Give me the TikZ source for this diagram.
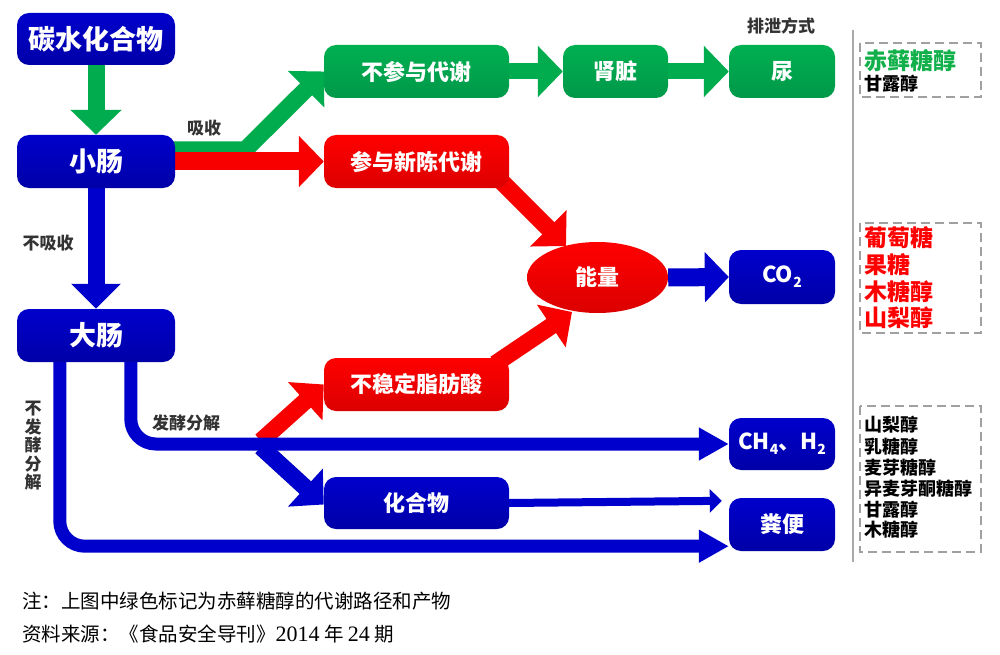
\documentclass[tikz,border=0pt]{standalone}
\usepackage{fontspec}
\setmainfont{Noto Sans CJK SC}
\newfontfamily\latinserif{Liberation Serif}
\usetikzlibrary{arrows.meta,shapes.geometric,calc}
\pgfdeclarelayer{back}
\pgfdeclarelayer{bg}
\pgfsetlayers{back,bg,main}
\definecolor{dblue}{HTML}{0000CC}
\definecolor{dblue2}{HTML}{0000A8}
\definecolor{gtop}{HTML}{00B050}
\definecolor{gbot}{HTML}{00984A}
\definecolor{rtop}{HTML}{FF0000}
\definecolor{rbot}{HTML}{DC0000}
\definecolor{ablue}{HTML}{0000CC}
\definecolor{agreen}{HTML}{00AC4E}
\definecolor{ared}{HTML}{F80000}
\definecolor{lbl}{HTML}{333333}
\definecolor{lgreen}{HTML}{12B04A}
\definecolor{dash}{HTML}{A0A0A0}
\tikzset{
  box/.style={rounded corners=12pt, text=white, inner sep=0pt, minimum height=53pt,
    font=\bfseries\fontsize{22}{26}\selectfont},
  bluebox/.style={box, top color=dblue, bottom color=dblue2},
  greenbox/.style={box, top color=gtop, bottom color=gbot},
  redbox/.style={box, top color=rtop, bottom color=rbot},
  bigbox/.style={bluebox, minimum width=158pt, font=\bfseries\fontsize{27}{30}\selectfont},
  garrow/.style={draw=agreen, line width=17pt, -{Triangle[length=25pt,width=50pt]}},
  rarrow/.style={draw=ared, line width=18pt, -{Triangle[length=25pt,width=50pt]}},
  barrow/.style={draw=ablue, line width=18pt, -{Triangle[length=25pt,width=50pt]}},
  thinarrow/.style={draw=ablue, line width=13pt, rounded corners=25pt, -{Triangle[length=30pt,width=31pt]}},
  lbltext/.style={text=lbl, inner sep=0pt, font=\bfseries\fontsize{17}{18}\selectfont},
  dashbox/.style={draw=dash, line width=1.5pt, dash pattern=on 9pt off 5pt},
  leg/.style={anchor=west, inner sep=0pt, font=\bfseries\fontsize{18}{20}\selectfont},
  legbig/.style={anchor=west, inner sep=0pt, font=\bfseries\fontsize{23}{25}\selectfont},
  foot/.style={anchor=west, inner sep=0pt, font=\fontsize{19.5}{22}\selectfont},
}
\begin{document}
\begin{tikzpicture}[x=1pt,y=-1pt]
\begin{pgfonlayer}{back}
\fill[white] (0,0) rectangle (1000,655);
\end{pgfonlayer}
\useasboundingbox (0,0) rectangle (1000,655);

% nodes
\node[bigbox, minimum height=52pt] (carb) at (96,39) {碳水化合物};
\node[bigbox] (small) at (96,161.5) {小肠};
\node[bigbox] (large) at (96,335.5) {大肠};
\node[greenbox, minimum width=185pt] (noparti) at (416.5,71.5) {不参与代谢};
\node[greenbox, minimum width=105pt] (kidney) at (615.5,71.5) {肾脏};
\node[greenbox, minimum width=106pt] (urine) at (782,71.5) {尿};
\node[redbox, minimum width=185pt] (parti) at (416.5,161.5) {参与新陈代谢};
\node[ellipse, inner sep=0pt, minimum width=141pt, minimum height=71pt, top color=rtop, bottom color=rbot,
  text=white, font=\bfseries\fontsize{22}{26}\selectfont] (energy) at (597.5,277.5) {能量};
\node[bluebox, minimum width=106pt, minimum height=54pt] (co2) at (782,277)
  {CO\raisebox{-0.4ex}{\fontsize{14}{14}\selectfont 2}};
\node[redbox, minimum width=185pt] (fatty) at (416.5,384.5) {不稳定脂肪酸};
\node[bluebox, minimum width=106pt, minimum height=52pt] (gas) at (782,444)
  {CH\raisebox{-0.4ex}{\fontsize{14}{14}\selectfont 4}、H\raisebox{-0.4ex}{\fontsize{14}{14}\selectfont 2}};
\node[bluebox, minimum width=185pt, minimum height=52pt] (compound) at (416.5,503) {化合物};
\node[bluebox, minimum width=106pt] (feces) at (782,524.5) {粪便};

\coordinate (branch) at (258,444);

% connectors
\begin{pgfonlayer}{bg}
\draw[garrow] (carb.south) -- (small.north);
\draw[barrow, line width=17pt, -{Triangle[length=25pt,width=48pt]}] (small.south) -- (large.north);
\draw[garrow] ($(small.east)+(-2,-11.5)$) -- ++(72,0) -- (noparti.west);
\draw[rarrow] (small.east) -- (parti.west);
\draw[garrow, line width=16pt] (noparti.east) -- (kidney.west);
\draw[garrow, line width=16pt] (kidney.east) -- (urine.west);
\draw[rarrow, line width=17pt] ($(parti.south east)+(-19,-18)$) -- ($(energy.center)+(-31.5,-31.5)$);
\draw[rarrow, line width=17pt] ($(fatty.north east)+(-14,6)$) -- ($(energy.center)+(-25.5,34.5)$);
\draw[barrow, line width=18pt, -{Triangle[length=24pt,width=49pt]}] (energy.east) -- (co2.west);
\draw[rarrow, line width=17pt] ($(branch)+(3,-3)$) -- (fatty.west);
\draw[barrow, line width=17pt] ($(branch)+(3,3)$) -- ($(compound.west)+(0,1.5)$);
\draw[thinarrow] ($(large.south west)+(43,-2)$) |- ($(feces.south west)+(0,-5)$);
\draw[thinarrow] ($(large.south west)+(114,-2)$) |- (gas.west);
\draw[draw=ablue, line width=8pt, -{Triangle[length=12pt,width=23pt]}] (compound.east) -- ($(feces.north west)+(-7,3)$);
\end{pgfonlayer}

% labels
\node[lbltext] (labs) at (204,128) {吸收};
\node[lbltext] (lnabs) at (48,243) {不吸收};
\node[lbltext] (lferm) at (186,423) {发酵分解};
\node[lbltext, align=center, font=\bfseries\fontsize{17}{18.5}\selectfont] (lnferm) at (33,446) {不\\发\\酵\\分\\解};
\node[lbltext] (lexc) at (781,26) {排泄方式};

% right panel
\draw[draw=dash!90, line width=1.5pt] (853,30) -- (853,562);
\draw[dashbox] (860,43) rectangle (981,97);
\draw[dashbox] (860,223) rectangle (981,333);
\draw[dashbox] (860,406) rectangle (981,552);
\node[legbig, text=lgreen] (l1a) at (864,61) {赤藓糖醇};
\node[leg] (l1b) at (864,84) {甘露醇};
\node[legbig, text=red] (l2a) at (864,238) {葡萄糖};
\node[legbig, text=red] (l2b) at (864,265) {果糖};
\node[legbig, text=red] (l2c) at (864,291.5) {木糖醇};
\node[legbig, text=red] (l2d) at (864,318) {山梨醇};
\node[leg] (l3a) at (864,425) {山梨醇};
\node[leg] (l3b) at (864,446.5) {乳糖醇};
\node[leg] (l3c) at (864,467.5) {麦芽糖醇};
\node[leg] (l3d) at (864,488.5) {异麦芽酮糖醇};
\node[leg] (l3e) at (864,509.5) {甘露醇};
\node[leg] (l3f) at (864,530) {木糖醇};

% footnote
\node[foot] (f1) at (22,601) {注：上图中绿色标记为赤藓糖醇的代谢路径和产物};
\node[foot] (f2) at (22,634) {资料来源：《食品安全导刊》{\latinserif\fontsize{22}{22}\selectfont 2014} 年 {\latinserif\fontsize{22}{22}\selectfont 24} 期};
\end{tikzpicture}
\end{document}
